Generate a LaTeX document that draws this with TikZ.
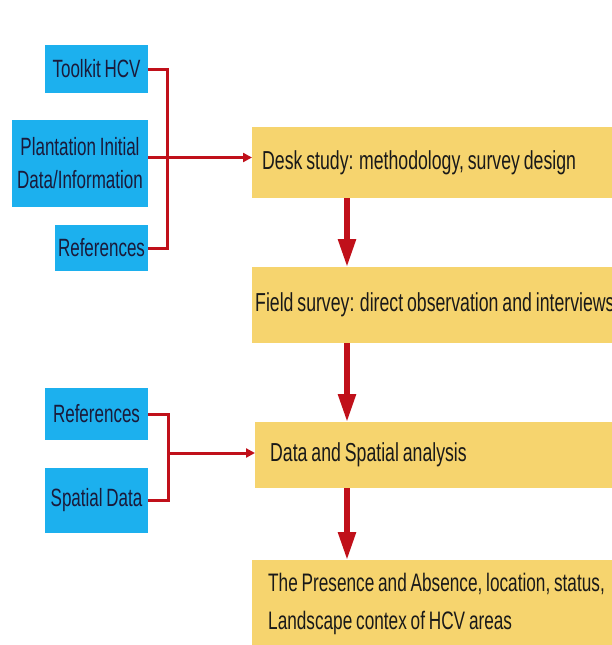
\documentclass[tikz,border=0pt]{standalone}
\usepackage{fontspec}
\setmainfont[FakeStretch=0.68,WordSpace=0.8]{Liberation Sans}
\usetikzlibrary{arrows.meta}
\definecolor{bluebox}{HTML}{1CB0EE}
\definecolor{yellowbox}{HTML}{F6D46E}
\definecolor{arrowred}{HTML}{C0101A}
\definecolor{txtblue}{HTML}{1A1A3A}
\begin{document}
\begin{tikzpicture}[x=1pt,y=-1pt,
 bluenode/.style={fill=bluebox, text=txtblue, inner sep=0pt, align=center, font=\fontsize{25}{33}\selectfont},
 yellownode/.style={fill=yellowbox, text=black!90, inner ysep=0pt, anchor=north west, align=flush left, text width=420pt, font=\fontsize{26}{38}\selectfont},
 brk/.style={draw=arrowred, line width=3pt},
 harrow/.style={draw=arrowred, line width=3pt, -{Triangle[length=9pt,width=9pt]}},
 varrow/.style={draw=arrowred, line width=5.5pt, -{Triangle[length=28pt,width=17pt]}}]
\clip (0,0) rectangle (612,645);
\fill[white] (0,0) rectangle (612,645);
% blue source boxes
\node[bluenode, minimum width=103pt, minimum height=48pt] (tk) at (96.5,69) {Toolkit HCV};
\node[bluenode, minimum width=136pt, minimum height=87pt] (pl) at (80,163.5) {Plantation Initial\\Data/Information};
\node[bluenode, minimum width=93pt, minimum height=46pt] (refa) at (101.5,248) {References};
\node[bluenode, minimum width=103pt, minimum height=52pt] (refb) at (96.5,414) {References};
\node[bluenode, minimum width=103pt, minimum height=65pt] (sd) at (96.5,500.5) {Spatial Data};
% yellow process boxes
\node[yellownode, inner xsep=10pt, minimum height=71pt] (desk) at (252,127) {Desk study: methodology, survey design};
\node[yellownode, inner xsep=3pt, minimum height=76pt] (field) at (252,267) {Field survey: direct observation and interviews};
\node[yellownode, inner xsep=15pt, minimum height=66pt] (data) at (255,422) {Data and Spatial analysis};
\node[yellownode, inner xsep=16pt, minimum height=88pt, font=\fontsize{25.3}{38}\selectfont] (pres) at (252,560) {The Presence and Absence, location, status,\\Landscape contex of HCV areas};
% brackets and arrows
\coordinate (ba) at (167,160);
\draw[brk] (tk.east) -| (ba) |- (refa.east);
\draw[harrow] ([yshift=6pt]pl.east) -- ([yshift=6pt]pl.east -| desk.west);
\coordinate (bb) at (168,453);
\draw[brk] (refb.east) -| (bb) |- (sd.east);
\draw[harrow] (bb) -- (bb -| data.west);
\coordinate (ax) at (347,0);
\draw[varrow] (ax |- desk.south) -- (ax |- field.north);
\draw[varrow] (ax |- field.south) -- (ax |- data.north);
\draw[varrow] (ax |- data.south) -- (ax |- pres.north);
\end{tikzpicture}
\end{document}
